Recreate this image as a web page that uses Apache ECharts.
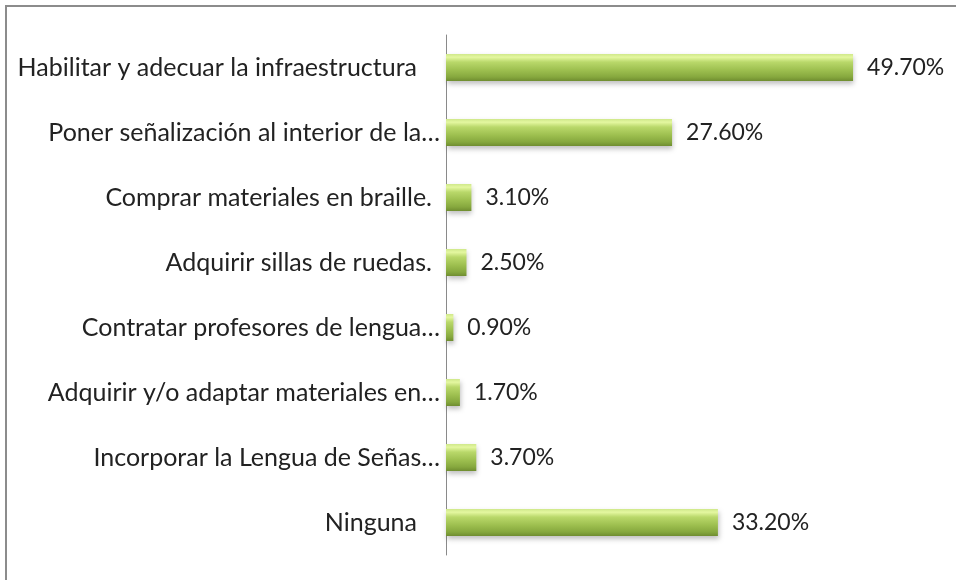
<!DOCTYPE html>
<html>
<head>
<meta charset="utf-8">
<script src="https://cdn.jsdelivr.net/npm/echarts@6/dist/echarts.min.js"></script>
<style>
  html, body { margin: 0; padding: 0; background: #ffffff; }
  #chart { width: 956px; height: 580px; }
</style>
</head>
<body>
<div id="chart"></div>
<script>
// Acciones de accesibilidad (porcentaje de respuestas)
const categories = [
  'Habilitar y adecuar la infraestructura',
  'Poner señalización al interior de la…',
  'Comprar materiales en braille.',
  'Adquirir sillas de ruedas.',
  'Contratar profesores de lengua…',
  'Adquirir y/o adaptar materiales en…',
  'Incorporar la Lengua de Señas…',
  'Ninguna'
];
const values = [49.7, 27.6, 3.1, 2.5, 0.9, 1.7, 3.7, 33.2];

const FONT = 'Lato, "Open Sans", sans-serif';

// Labels that are not truncated keep a little trailing room before the axis
function labelStyleFor(name) {
  if (name.endsWith('…')) return 'e';
  if (name.endsWith('.')) return 'd';
  return 'w';
}

const barFill = new echarts.graphic.LinearGradient(0, 0, 0, 1, [
  { offset: 0.00, color: '#cfe88a' },
  { offset: 0.12, color: '#e4f7a0' },
  { offset: 0.30, color: '#b9d86a' },
  { offset: 0.60, color: '#9dbf4f' },
  { offset: 0.85, color: '#86a83e' },
  { offset: 1.00, color: '#6f8d30' }
]);

const labelBase = { color: '#222222', fontFamily: FONT, fontSize: 25 };

const chart = echarts.init(document.getElementById('chart'), null, { renderer: 'canvas' });
chart.setOption({
  animation: false,
  backgroundColor: '#ffffff',
  graphic: [{
    type: 'rect',
    shape: { x: 6, y: 6, width: 1000, height: 1000 },
    style: { fill: 'none', stroke: '#8c8c8c', lineWidth: 2 },
    silent: true
  }],
  grid: { left: 446, top: 35, width: 491.4, height: 520, containLabel: false },
  xAxis: {
    type: 'value', min: 0, max: 60, show: false
  },
  yAxis: {
    type: 'category',
    data: categories,
    inverse: true,
    axisLine: { show: true, lineStyle: { color: '#8a8a8a', width: 1 } },
    axisTick: { show: false },
    axisLabel: {
      margin: 6,
      formatter: v => '{' + labelStyleFor(v) + '|' + v + '}',
      rich: {
        e: Object.assign({}, labelBase),
        d: Object.assign({ padding: [0, 8, 0, 0] }, labelBase),
        w: Object.assign({ padding: [0, 23, 0, 0] }, labelBase)
      }
    }
  },
  series: [{
    type: 'bar',
    data: values,
    barWidth: 27,
    itemStyle: {
      color: barFill,
      shadowColor: 'rgba(0,0,0,0.25)',
      shadowBlur: 5,
      shadowOffsetY: 3,
      shadowOffsetX: 1
    },
    label: {
      show: true,
      position: 'right',
      distance: 14,
      color: '#222222',
      fontFamily: FONT,
      fontSize: 23,
      formatter: p => p.value.toFixed(2) + '%'
    }
  }]
});
</script>
</body>
</html>
